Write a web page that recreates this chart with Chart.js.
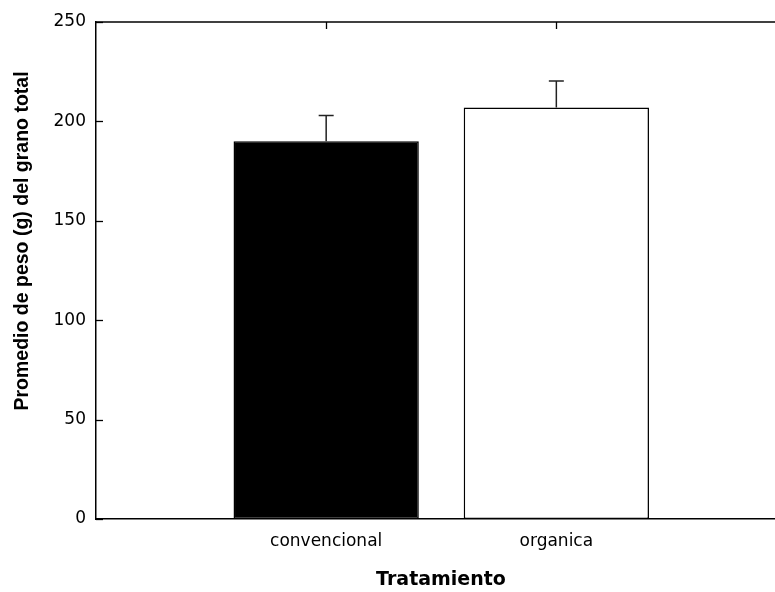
<!DOCTYPE html>
<html>
<head>
<meta charset="utf-8">
<script src="https://cdn.jsdelivr.net/npm/chart.js@4.4.1/dist/chart.umd.min.js"></script>
<style>
  html, body { margin: 0; padding: 0; background: #ffffff; }
  #wrap { width: 775px; height: 592px; }
</style>
</head>
<body>
<div id="wrap"><canvas id="c" width="775" height="592"></canvas></div>
<script>
const categories = ['convencional', 'organica'];
const categoryPositions = [1, 2];
const means = [190, 207];
const errorsUp = [13, 13.3];
const yTicks = [0, 50, 100, 150, 200, 250];
const barColors = ['#000000', '#ffffff'];
const yTitle = 'Promedio de peso (g) del grano total';
const xTitle = 'Tratamiento';

const PLOT_LEFT = 96, PLOT_TOP = 22, PLOT_BOTTOM = 519;

const decorPlugin = {
  id: 'decor',
  afterDatasetsDraw(chart) {
    const ctx = chart.ctx;
    const x = chart.scales.x, y = chart.scales.y;
    const area = chart.chartArea;
    ctx.save();
    // error bars (upper only)
    ctx.strokeStyle = '#222222';
    ctx.lineWidth = 1.5;
    means.forEach((m, i) => {
      const px = x.getPixelForValue(categoryPositions[i]);
      const y0 = y.getPixelForValue(m);
      const y1 = y.getPixelForValue(m + errorsUp[i]);
      ctx.beginPath();
      ctx.moveTo(px, y0);
      ctx.lineTo(px, y1);
      ctx.moveTo(px - 7.5, y1);
      ctx.lineTo(px + 7.5, y1);
      ctx.stroke();
    });
    // top border
    ctx.strokeStyle = '#000000';
    ctx.lineWidth = 1.3;
    ctx.beginPath();
    ctx.moveTo(area.left, area.top);
    ctx.lineTo(area.right, area.top);
    ctx.stroke();
    // inward y ticks
    ctx.lineWidth = 1.3;
    yTicks.forEach(v => {
      const py = Math.round(y.getPixelForValue(v)) + 0.5;
      ctx.beginPath();
      ctx.moveTo(area.left, py);
      ctx.lineTo(area.left + 7, py);
      ctx.stroke();
    });
    // inward top ticks at categories
    categoryPositions.forEach(c => {
      const px = Math.round(x.getPixelForValue(c)) + 0.5;
      ctx.beginPath();
      ctx.moveTo(px, area.top);
      ctx.lineTo(px, area.top + 7);
      ctx.stroke();
    });
    // titles
    ctx.fillStyle = '#000000';
    ctx.textAlign = 'center';
    ctx.textBaseline = 'middle';
    ctx.font = 'bold 19px "DejaVu Sans"';
    ctx.fillText(xTitle, 441, 580);
    ctx.translate(23, 241);
    ctx.rotate(-Math.PI / 2);
    ctx.font = 'bold 19.5px "Liberation Sans"';
    ctx.fillText(yTitle, 0, 0);
    ctx.restore();
  }
};

const ctx = document.getElementById('c').getContext('2d');
new Chart(ctx, {
  type: 'bar',
  data: {
    datasets: [{
      data: categoryPositions.map((p, i) => ({ x: p, y: means[i] })),
      backgroundColor: barColors,
      borderColor: '#000000',
      borderWidth: 1.5,
      borderSkipped: false,
      barPercentage: 0.805,
      categoryPercentage: 1.0
    }]
  },
  options: {
    responsive: false,
    animation: false,
    devicePixelRatio: 1,
    layout: { padding: { top: PLOT_TOP, right: 0, left: 0, bottom: 0 } },
    plugins: { legend: { display: false }, tooltip: { enabled: false }, title: { display: false } },
    scales: {
      x: {
        type: 'linear',
        min: 0,
        max: 2.95,
        offset: false,
        grid: { display: false, drawTicks: false },
        border: { display: true, color: '#000000', width: 1.5 },
        afterBuildTicks(scale) {
          scale.ticks = categoryPositions.map(v => ({ value: v }));
        },
        afterFit(scale) { scale.height = 592 - PLOT_BOTTOM; },
        ticks: {
          autoSkip: false,
          maxRotation: 0,
          padding: 12,
          color: '#000000',
          font: { family: '"DejaVu Sans"', size: 17 },
          callback: (v) => {
            const i = categoryPositions.indexOf(v);
            return i >= 0 ? categories[i] : '';
          }
        }
      },
      y: {
        min: 0,
        max: 250,
        grid: { display: false, drawTicks: false },
        border: { display: true, color: '#000000', width: 1.5 },
        afterBuildTicks(scale) {
          scale.ticks = yTicks.map(v => ({ value: v }));
        },
        afterFit(scale) { scale.width = PLOT_LEFT; },
        ticks: {
          padding: 10,
          color: '#000000',
          font: { family: '"DejaVu Sans"', size: 17 }
        }
      }
    }
  },
  plugins: [decorPlugin]
});
</script>
</body>
</html>
